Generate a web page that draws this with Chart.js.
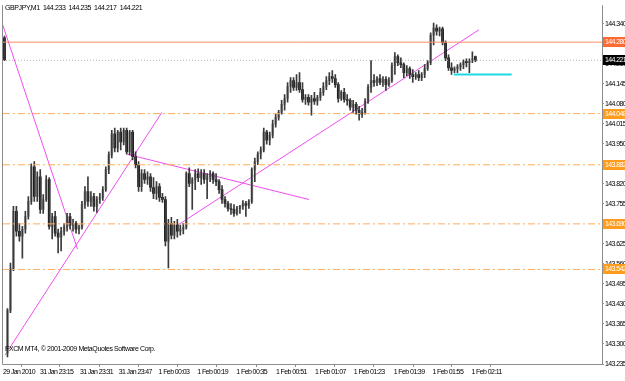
<!DOCTYPE html>
<html>
<head>
<meta charset="utf-8">
<script src="https://cdn.jsdelivr.net/npm/chart.js@4.4.1/dist/chart.umd.min.js"></script>
<style>
  html, body { margin: 0; padding: 0; background: #fff; }
  #wrap { width: 625px; height: 381px; }
</style>
</head>
<body>
<div id="wrap"><canvas id="chart"></canvas></div>
<script>
const symbol = 'GBPJPY,M1'
const copyright = 'FXCM MT4, \u00a9 2001-2009 MetaQuotes Software Corp.'

// one-minute bars, left to right
const opens = [144.294, 143.270, 143.409, 143.544, 143.731, 143.666, 143.650, 143.673, 143.714, 143.763,
  143.875, 143.779, 143.843, 143.737, 143.769, 143.834, 143.682, 143.714, 143.660, 143.647,
  143.666, 143.679, 143.714, 143.686, 143.692, 143.673, 143.679, 143.753, 143.795, 143.763,
  143.779, 143.747, 143.769, 143.776, 143.801, 143.866, 143.914, 143.982, 143.937, 143.988,
  143.956, 143.994, 143.924, 143.988, 143.908, 143.882, 143.811, 143.853, 143.834, 143.843,
  143.808, 143.789, 143.811, 143.776, 143.769, 143.634, 143.692, 143.653, 143.686, 143.666,
  143.673, 143.679, 143.853, 143.821, 143.834, 143.853, 143.840, 143.853, 143.834, 143.843,
  143.853, 143.834, 143.827, 143.801, 143.769, 143.756, 143.740, 143.737, 143.724, 143.740,
  143.747, 143.756, 143.750, 143.763, 143.866, 143.892, 143.917, 143.930, 143.988, 143.962,
  143.978, 144.014, 144.036, 144.052, 144.078, 144.097, 144.136, 144.155, 144.133, 144.149,
  144.126, 144.094, 144.101, 144.085, 144.097, 144.088, 144.101, 144.117, 144.136, 144.155,
  144.168, 144.162, 144.142, 144.097, 144.117, 144.094, 144.091, 144.069, 144.078, 144.059,
  144.046, 144.052, 144.088, 144.133, 144.155, 144.149, 144.162, 144.149, 144.159, 144.142,
  144.155, 144.204, 144.233, 144.213, 144.207, 144.181, 144.194, 144.175, 144.168, 144.175,
  144.165, 144.175, 144.194, 144.213, 144.303, 144.326, 144.316, 144.323, 144.278, 144.229,
  144.197, 144.188, 144.194, 144.200, 144.207, 144.217, 144.213, 144.220, 144.233]
const highs = [144.300, 143.415, 143.563, 143.747, 143.747, 143.692, 143.682, 143.731, 143.779, 143.885,
  143.892, 143.859, 143.866, 143.785, 143.847, 143.840, 143.724, 143.731, 143.673, 143.679,
  143.692, 143.724, 143.724, 143.705, 143.698, 143.686, 143.763, 143.811, 143.843, 143.795,
  143.789, 143.779, 143.789, 143.811, 143.875, 143.924, 143.994, 144.001, 143.994, 144.001,
  144.001, 144.001, 143.994, 143.994, 143.924, 143.892, 143.866, 143.866, 143.859, 143.853,
  143.840, 143.827, 143.821, 143.789, 143.779, 143.705, 143.711, 143.698, 143.705, 143.686,
  143.692, 143.859, 143.872, 143.840, 143.866, 143.869, 143.866, 143.866, 143.853, 143.863,
  143.859, 143.853, 143.834, 143.814, 143.779, 143.763, 143.756, 143.753, 143.747, 143.750,
  143.766, 143.763, 143.769, 143.872, 143.904, 143.924, 143.940, 144.001, 143.994, 143.988,
  144.027, 144.046, 144.059, 144.091, 144.110, 144.149, 144.165, 144.165, 144.175, 144.181,
  144.149, 144.110, 144.110, 144.107, 144.117, 144.107, 144.130, 144.149, 144.168, 144.181,
  144.188, 144.175, 144.149, 144.123, 144.130, 144.110, 144.097, 144.091, 144.085, 144.072,
  144.065, 144.097, 144.142, 144.220, 144.175, 144.168, 144.175, 144.168, 144.168, 144.165,
  144.213, 144.246, 144.239, 144.229, 144.213, 144.204, 144.200, 144.191, 144.181, 144.188,
  144.181, 144.207, 144.220, 144.310, 144.342, 144.336, 144.329, 144.329, 144.284, 144.239,
  144.213, 144.200, 144.207, 144.213, 144.223, 144.226, 144.226, 144.249, 144.235]
const lows = [144.220, 143.258, 143.402, 143.538, 143.650, 143.634, 143.579, 143.660, 143.705, 143.753,
  143.763, 143.763, 143.724, 143.724, 143.763, 143.673, 143.641, 143.650, 143.596, 143.602,
  143.653, 143.666, 143.673, 143.666, 143.660, 143.657, 143.673, 143.740, 143.747, 143.747,
  143.731, 143.727, 143.756, 143.766, 143.795, 143.853, 143.904, 143.924, 143.924, 143.930,
  143.946, 143.917, 143.914, 143.898, 143.872, 143.795, 143.795, 143.821, 143.818, 143.795,
  143.772, 143.769, 143.763, 143.760, 143.618, 143.547, 143.641, 143.641, 143.647, 143.653,
  143.657, 143.673, 143.811, 143.737, 143.801, 143.827, 143.818, 143.821, 143.772, 143.827,
  143.821, 143.814, 143.789, 143.756, 143.744, 143.731, 143.721, 143.714, 143.718, 143.724,
  143.737, 143.714, 143.740, 143.756, 143.827, 143.882, 143.901, 143.924, 143.949, 143.946,
  143.969, 144.004, 144.027, 144.046, 144.059, 144.085, 144.117, 144.123, 144.123, 144.117,
  144.085, 144.078, 144.075, 144.043, 144.078, 144.075, 144.091, 144.107, 144.126, 144.142,
  144.149, 144.133, 144.085, 144.091, 144.085, 144.075, 144.059, 144.052, 144.046, 144.027,
  144.036, 144.046, 144.081, 144.117, 144.136, 144.139, 144.142, 144.136, 144.123, 144.136,
  144.149, 144.175, 144.204, 144.197, 144.165, 144.171, 144.162, 144.149, 144.159, 144.155,
  144.155, 144.165, 144.188, 144.207, 144.271, 144.303, 144.300, 144.271, 144.220, 144.188,
  144.175, 144.181, 144.181, 144.188, 144.194, 144.200, 144.181, 144.213, 144.217]
const closes = [144.223, 143.409, 143.544, 143.731, 143.666, 143.650, 143.673, 143.714, 143.763, 143.875,
  143.779, 143.843, 143.737, 143.769, 143.834, 143.682, 143.714, 143.660, 143.647, 143.666,
  143.679, 143.714, 143.686, 143.692, 143.673, 143.679, 143.753, 143.795, 143.763, 143.779,
  143.747, 143.769, 143.776, 143.801, 143.866, 143.914, 143.982, 143.937, 143.988, 143.956,
  143.994, 143.924, 143.988, 143.908, 143.882, 143.811, 143.853, 143.834, 143.843, 143.808,
  143.789, 143.811, 143.776, 143.769, 143.634, 143.692, 143.653, 143.686, 143.666, 143.673,
  143.679, 143.853, 143.821, 143.834, 143.853, 143.840, 143.853, 143.834, 143.843, 143.853,
  143.834, 143.827, 143.801, 143.769, 143.756, 143.740, 143.737, 143.724, 143.740, 143.747,
  143.756, 143.750, 143.763, 143.866, 143.892, 143.917, 143.930, 143.988, 143.962, 143.978,
  144.014, 144.036, 144.052, 144.078, 144.097, 144.136, 144.155, 144.133, 144.149, 144.126,
  144.094, 144.101, 144.085, 144.097, 144.088, 144.101, 144.117, 144.136, 144.155, 144.168,
  144.162, 144.142, 144.097, 144.117, 144.094, 144.091, 144.069, 144.078, 144.059, 144.046,
  144.052, 144.088, 144.133, 144.155, 144.149, 144.162, 144.149, 144.159, 144.142, 144.155,
  144.204, 144.233, 144.213, 144.207, 144.181, 144.194, 144.175, 144.168, 144.175, 144.165,
  144.175, 144.194, 144.213, 144.303, 144.326, 144.316, 144.323, 144.278, 144.229, 144.197,
  144.188, 144.194, 144.200, 144.207, 144.217, 144.213, 144.220, 144.226, 144.221]

// time axis labels and the bar they sit on
const timeLabels = ['29 Jan 2010', '31 Jan 23:15', '31 Jan 23:31', '31 Jan 23:47', '1 Feb 00:03', '1 Feb 00:19',
  '1 Feb 00:35', '1 Feb 00:51', '1 Feb 01:07', '1 Feb 01:23', '1 Feb 01:39', '1 Feb 01:55', '1 Feb 02:11']
const timeTickBars = [-0.5, 11.9, 25.3, 38.3, 51.7, 64.7, 77.8, 91.1, 104.2, 117.2, 130.6, 143.6, 156.7]

const priceTicks = [144.340, 144.275, 144.210, 144.145, 144.080, 144.015, 143.950, 143.885, 143.820,
  143.755, 143.690, 143.625, 143.560, 143.495, 143.430, 143.365, 143.300, 143.235]

// drawn objects
const resistance = 144.280
const bid = 144.221
const levels = [144.048, 143.882, 143.690, 143.542]
const cyanLine = [[150.8, 144.175], [170.2, 144.175]]
const trendLines = [
  [[-0.8, 144.342], [24.5, 143.608]],
  [[0.2, 143.264], [52.8, 144.052]],
  [[40.8, 143.917], [102.2, 143.769]],
  [[57.5, 143.682], [159.2, 144.320]]
]

const X_MIN = -0.5
const X_MAX = 200.5
const FONT = '"Liberation Sans", Arial, sans-serif'

const hline = (price, color, dash) => ({
  type: 'line',
  data: [{ x: X_MIN, y: price }, { x: X_MAX, y: price }],
  borderColor: color,
  borderWidth: 1,
  borderDash: dash || [],
  pointRadius: 0
})

const datasets = [
  ...levels.map(p => hline(p, '#ffad5a', [7, 3, 2, 3])),
  hline(resistance, '#ff8c6a'),
  hline(bid, '#b4b4b4', [1, 2]),
  {
    type: 'bar',
    grouped: false,
    data: lows.map((l, i) => ({ x: i, y: [l, highs[i]] })),
    backgroundColor: '#3a3a3a',
    barThickness: 1
  },
  {
    type: 'bar',
    grouped: false,
    data: opens.map((o, i) => ({ x: i, y: [o, closes[i]] })),
    backgroundColor: opens.map((o, i) => closes[i] >= o ? '#a4a4a4' : '#000000'),
    barThickness: 2
  },
  ...trendLines.map(pts => ({
    type: 'line',
    data: pts.map(p => ({ x: p[0], y: p[1] })),
    borderColor: '#f04cf0',
    borderWidth: 1,
    pointRadius: 0
  })),
  {
    type: 'line',
    data: cyanLine.map(p => ({ x: p[0], y: p[1] })),
    borderColor: '#1ed8e6',
    borderWidth: 2,
    pointRadius: 0
  }
]

// MT4 text is a small tight bitmap font, so squeeze the letters a bit
const tightText = {
  id: 'tightText',
  beforeInit(chart) { chart.ctx.letterSpacing = '-0.6px' },
  beforeDraw(chart) { chart.ctx.letterSpacing = '-0.6px' }
}

const mtDecor = {
  id: 'mtDecor',
  afterDraw(chart) {
    const { ctx, chartArea: a, scales: { y } } = chart
    ctx.save()
    // frame
    ctx.strokeStyle = '#8c8c8c'
    ctx.lineWidth = 1
    ctx.beginPath()
    ctx.moveTo(a.left - 0.5, a.top)
    ctx.lineTo(a.left - 0.5, a.bottom + 0.5)
    ctx.lineTo(a.right + 0.5, a.bottom + 0.5)
    ctx.lineTo(a.right + 0.5, a.top)
    ctx.stroke()

    // price tags on the axis
    const tags = [
      { price: resistance, bg: '#ff6a33', fg: '#ffffff' },
      { price: bid, bg: '#000000', fg: '#ffffff' },
      ...levels.map(p => ({ price: p, bg: '#ff9c1e', fg: '#ffffff' }))
    ]
    ctx.font = '7px ' + FONT
    ctx.textBaseline = 'middle'
    ctx.textAlign = 'left'
    tags.forEach(t => {
      const py = Math.round(y.getPixelForValue(t.price))
      ctx.fillStyle = t.bg
      ctx.fillRect(a.right + 1, py - 5, 24, 10)
      ctx.fillStyle = t.fg
      ctx.fillText(t.price.toFixed(3), a.right + 3, py + 0.5)
    })

    // header and copyright
    const last = opens.length - 1
    ctx.letterSpacing = '-0.4px'
    ctx.fillStyle = '#000'
    ctx.fillText(symbol + '  ' + [opens[last], highs[last], lows[last], closes[last]].map(v => v.toFixed(3)).join('  '), a.left + 2, 8)
    ctx.fillText(copyright, a.left + 2, a.bottom - 15)
    ctx.restore()
  }
}

new Chart(document.getElementById('chart'), {
  type: 'bar',
  data: { datasets },
  options: {
    responsive: true,
    maintainAspectRatio: false,
    animation: false,
    events: [],
    layout: { padding: { left: 3, top: 2, right: 0, bottom: 0 } },
    plugins: { legend: { display: false }, tooltip: { enabled: false } },
    scales: {
      x: {
        type: 'linear',
        min: X_MIN,
        max: X_MAX,
        offset: false,
        afterBuildTicks: scale => { scale.ticks = timeTickBars.map(v => ({ value: v })) },
        afterFit: scale => { scale.height = 17 },
        grid: { drawOnChartArea: false, tickLength: 3, color: '#8c8c8c' },
        border: { display: false },
        ticks: {
          autoSkip: false,
          maxRotation: 0,
          minRotation: 0,
          align: 'start',
          padding: 1,
          color: '#000',
          font: { size: 7, family: FONT },
          callback: (v, i) => timeLabels[i]
        }
      },
      y: {
        position: 'right',
        min: 143.235,
        max: 144.400,
        afterBuildTicks: scale => { scale.ticks = priceTicks.map(v => ({ value: v })) },
        afterFit: scale => { scale.width = 23 },
        grid: { drawOnChartArea: false, tickLength: 2, color: '#8c8c8c' },
        border: { display: false },
        ticks: {
          autoSkip: false,
          padding: 1,
          color: '#000',
          font: { size: 7, family: FONT },
          callback: v => v.toFixed(3)
        }
      }
    }
  },
  plugins: [tightText, mtDecor]
})
</script>
</body>
</html>
